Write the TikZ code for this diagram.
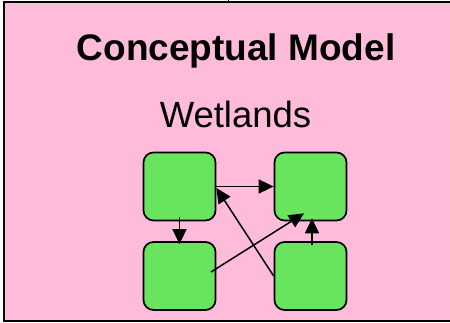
\documentclass[tikz,border=0pt]{standalone}
\usepackage{fontspec}
\setmainfont{Liberation Sans}
\usetikzlibrary{arrows.meta}
\definecolor{bgpink}{RGB}{255,188,218}
\definecolor{boxgreen}{RGB}{105,228,95}
\tikzset{
  box/.style={draw=black, line width=1.7pt, fill=boxgreen, rounded corners=10pt,
    minimum width=72pt, minimum height=68pt, inner sep=0pt},
  conn/.style={line width=1.5pt, -{Triangle[length=15pt,width=14pt]}},
}
\begin{document}
\begin{tikzpicture}[x=1pt,y=1pt]
\useasboundingbox (0,0) rectangle (450,322);
\fill[bgpink] (4,1) rectangle (452,320);
\draw[line width=1.6pt] (452,320) -- (4,320) -- (4,1) -- (452,1);
\draw[line width=1pt] (228,320) -- (228,322);
\node[anchor=base, font=\bfseries\fontsize{37}{40}\selectfont] (title) at (236,261) {Conceptual Model};
\node[anchor=base, font=\fontsize{36.5}{40}\selectfont] (sub) at (235.5,194) {Wetlands};
\node[box] (TL) at (179.5,135.5) {};
\node[box] (TR) at (310.5,135.5) {};
\node[box] (BL) at (179.5,46) {};
\node[box] (BR) at (310.5,46) {};
\draw[conn] (TL.east) -- (TR.west);
\draw[conn] ([yshift=4pt]TL.south) -- ([yshift=-3pt]BL.north);
\draw[conn] ([shift={(31.5pt,4pt)}]BL.center) -- ([shift={(-6.5pt,8pt)}]TR.south);
\draw[conn] (BR.west) -- ([yshift=-1.5pt]TL.east);
\draw[conn] ([shift={(1.5pt,-4pt)}]BR.north) -- ([shift={(1.5pt,3pt)}]TR.south);
\end{tikzpicture}
\end{document}
